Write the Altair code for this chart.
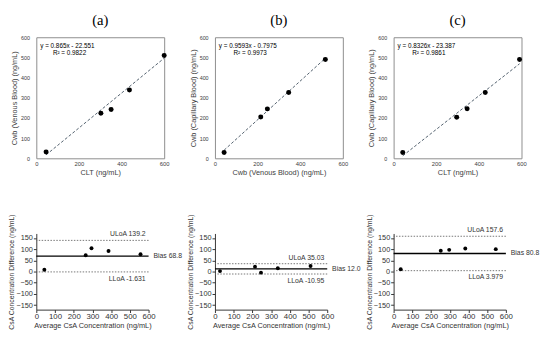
import altair as alt
import pandas as pd

# ---------------- data ----------------
panel_titles = ["(a)", "(b)", "(c)"]
top_x_titles = ["CLT (ng/mL)", "Cwb (Venous Blood) (ng/mL)", "CLT (ng/mL)"]
top_y_titles = ["Cwb (Venous Blood) (ng/mL)", "Cwb (Capillary Blood) (ng/mL)",
                "Cwb (Capillary Blood) (ng/mL)"]

top_a_x = [46, 303, 351, 437, 600]
top_a_y = [31, 223, 242, 339, 510]
top_b_x = [43, 215, 246, 346, 518]
top_b_y = [29, 205, 245, 326, 490]
top_c_x = [43, 296, 345, 430, 591]
top_c_y = [29, 203, 246, 326, 490]

fit_slopes = [0.865, 0.9593, 0.8326]
fit_intercepts = [-22.551, -0.7975, -23.387]
fit_x_start = [46, 43, 43]
fit_x_end = [600, 518, 591]
eq_texts = ["y = 0.865x - 22.551", "y = 0.9593x - 0.7975", "y = 0.8326x - 23.387"]
r2_texts = ["R² = 0.9822", "R² = 0.9973", "R² = 0.9861"]

ba_a_avg = [43, 264, 295, 386, 557]
ba_a_diff = [8, 73, 104, 92, 77]
ba_b_avg = [27, 214, 246, 336, 511]
ba_b_diff = [2, 22, -5, 15, 25]
ba_c_avg = [38, 252, 297, 383, 546]
ba_c_diff = [10, 93, 97, 103, 100]

bias_vals = [68.8, 12.0, 80.8]
uloa_vals = [139.2, 35.03, 157.6]
lloa_vals = [-1.631, -10.95, 3.979]
bias_labels = ["Bias  68.8", "Bias  12.0", "Bias  80.8"]
uloa_labels = ["ULoA 139.2", "ULoA 35.03", "ULoA 157.6"]
lloa_labels = ["LLoA -1.631", "LLoA -10.95", "LLoA 3.979"]

top_ticks = [0, 200, 400, 600]
top_yticks = [0, 100, 200, 300, 400, 500, 600]
bot_xticks = [0, 100, 200, 300, 400, 500, 600]
bot_yticks = [-150, -100, -50, 0, 50, 100, 150]

FONT = "Liberation Sans"
TW, TH = 131, 124
BW, BH = 115, 78


def top_panel(i, xs, ys):
    pts = pd.DataFrame({"x": xs, "y": ys})
    xsc = alt.Scale(domain=[0, 600], nice=False, zero=False)
    ysc = alt.Scale(domain=[0, 600], nice=False)
    xax = alt.Axis(values=top_ticks, tickCount=20, title=top_x_titles[i], grid=False, ticks=False,
                   domain=False, labelFontSize=6, labelPadding=2, titleFontSize=7.5,
                   titlePadding=3, labelColor="#404040", titleColor="#404040",
                   titleFontWeight="normal", labelFlush=False, labelOverlap=False)
    yax = alt.Axis(values=top_yticks, tickCount=20, title=top_y_titles[i], grid=False, ticks=False,
                   domain=False, labelFontSize=5.5, labelPadding=7, titleFontSize=7.5,
                   titlePadding=2, labelColor="#404040", titleColor="#404040",
                   titleFontWeight="normal", labelFlush=False, labelOverlap=False)
    fit = (alt.Chart(pd.DataFrame({"x": [fit_x_start[i], fit_x_end[i]]}))
           .transform_calculate(y=f"{fit_slopes[i]} * datum.x + ({fit_intercepts[i]})")
           .mark_line(strokeDash=[3, 2], color="#3d4d5c", strokeWidth=0.9)
           .encode(x=alt.X("x:Q", scale=xsc, axis=xax), y=alt.Y("y:Q", scale=ysc, axis=yax)))
    points = (alt.Chart(pts).mark_circle(size=26, color="black", opacity=1)
              .encode(x=alt.X("x:Q", scale=xsc, axis=xax), y=alt.Y("y:Q", scale=ysc, axis=yax)))
    eq = (alt.Chart(pd.DataFrame({"t": [eq_texts[i]]}))
          .mark_text(align="left", baseline="middle", fontSize=6.5, font=FONT, color="black")
          .encode(x=alt.value(4), y=alt.value(9.5), text="t:N"))
    r2 = (alt.Chart(pd.DataFrame({"t": [r2_texts[i]]}))
          .mark_text(align="left", baseline="middle", fontSize=6.5, font=FONT, color="black")
          .encode(x=alt.value(17 if i == 0 else 19), y=alt.value(16.5), text="t:N"))
    return alt.layer(fit, points, eq, r2).properties(
        width=TW, height=TH,
        title=alt.TitleParams(panel_titles[i], font="Liberation Serif", fontSize=15,
                              fontWeight="normal", offset=8, anchor="middle", color="black"),
        view=alt.ViewBackground(stroke="#8c8c8c", strokeWidth=1),
    )


def bottom_panel(i, avg, diff):
    pts = pd.DataFrame({"x": avg, "y": diff})
    xsc = alt.Scale(domain=[0, 600], nice=False, zero=False)
    ysc = alt.Scale(domain=[-170, 170], nice=False)
    xax = alt.Axis(values=bot_xticks, tickCount=20, title="Average CsA Concentration  (ng/mL)",
                   grid=False, ticks=True, tickSize=3, domain=True, domainColor="#333333",
                   tickColor="#333333", labelFontSize=8, labelPadding=0,
                   titleFontSize=7.5, titlePadding=1, labelColor="#333333",
                   titleColor="#333333", titleFontWeight="normal", labelFlush=False,
                   labelOverlap=False)
    yax = alt.Axis(values=bot_yticks, tickCount=20, title="CsA Concentration Difference (ng/mL)",
                   grid=False, ticks=True, tickSize=3, domain=True, domainColor="#333333",
                   tickColor="#333333", labelFontSize=7.5, labelPadding=1,
                   titleFontSize=7, titlePadding=1, labelColor="#333333",
                   titleColor="#333333", titleFontWeight="normal", labelFlush=False,
                   labelOverlap=False)
    pts_layer = (alt.Chart(pts).mark_circle(size=16, color="black", opacity=1)
                 .encode(x=alt.X("x:Q", scale=xsc, axis=xax), y=alt.Y("y:Q", scale=ysc, axis=yax)))
    lim_df = pd.DataFrame({"v": [uloa_vals[i], lloa_vals[i]]})
    limits = (alt.Chart(lim_df).mark_rule(color="#666666", strokeWidth=0.9, strokeDash=[1.5, 1.5])
              .encode(y=alt.Y("v:Q", scale=ysc, axis=yax)))
    bias_df = pd.DataFrame({"v": [bias_vals[i]], "t": [bias_labels[i]]})
    bias = (alt.Chart(bias_df).mark_rule(color="black", strokeWidth=1.4)
            .encode(y=alt.Y("v:Q", scale=ysc, axis=yax)))
    bias_txt = (alt.Chart(bias_df)
                .mark_text(align="left", baseline="middle", dx=5, fontSize=7, font=FONT,
                           color="#333333")
                .encode(x=alt.datum(600, scale=xsc, axis=xax), y=alt.Y("v:Q", scale=ysc, axis=yax),
                        text="t:N"))
    u_df = pd.DataFrame({"v": [uloa_vals[i]], "t": [uloa_labels[i]]})
    u_txt = (alt.Chart(u_df)
             .mark_text(align="right", baseline="bottom", dx=-3, dy=-3, fontSize=7, font=FONT,
                        color="#333333")
             .encode(x=alt.datum(600, scale=xsc, axis=xax), y=alt.Y("v:Q", scale=ysc, axis=yax),
                     text="t:N"))
    l_df = pd.DataFrame({"v": [lloa_vals[i]], "t": [lloa_labels[i]]})
    l_txt = (alt.Chart(l_df)
             .mark_text(align="right", baseline="top", dx=-3, dy=3, fontSize=7, font=FONT,
                        color="#333333")
             .encode(x=alt.datum(600, scale=xsc, axis=xax), y=alt.Y("v:Q", scale=ysc, axis=yax),
                     text="t:N"))
    return alt.layer(limits, bias, pts_layer, bias_txt, u_txt, l_txt).properties(
        width=BW, height=BH)


tops = [top_panel(0, top_a_x, top_a_y), top_panel(1, top_b_x, top_b_y),
        top_panel(2, top_c_x, top_c_y)]
bots = [bottom_panel(0, ba_a_avg, ba_a_diff), bottom_panel(1, ba_b_avg, ba_b_diff),
        bottom_panel(2, ba_c_avg, ba_c_diff)]

chart = alt.concat(*tops, *bots, columns=3,
                   spacing=alt.RowColnumber(row=77, column=52),
                   bounds="flush").properties(
    padding=0, background="white"
).configure_view(stroke=None).configure_axis(labelFont=FONT, titleFont=FONT)

chart.save("out.html", embed_options={"renderer": "svg", "actions": False})
